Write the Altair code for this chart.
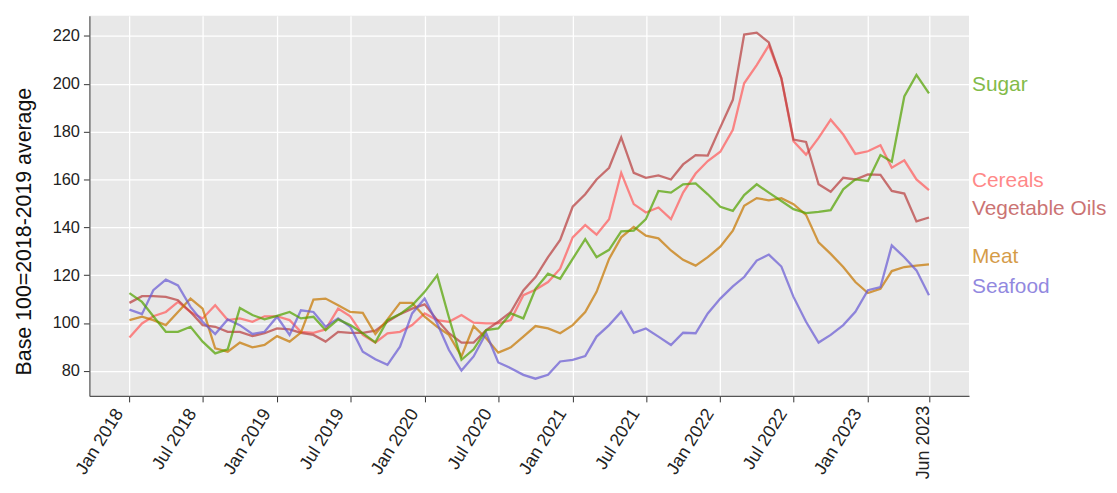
import altair as alt
import pandas as pd

# ---------------- data ----------------
months = pd.date_range("2018-01-01", periods=66, freq="MS").strftime("%Y-%m-%d").tolist()

sugar = [112.5, 108.8, 102.8, 96.3, 96.3, 98.4, 92.2, 87.3, 89.0, 106.3, 103.3, 101.5,
         103.0, 104.6, 101.9, 102.6, 97.0, 101.5, 99.1, 95.7, 91.9, 101.2, 103.7, 107.4,
         113.0, 119.9, 102.3, 84.6, 89.0, 97.0, 97.7, 104.0, 101.9, 114.3, 120.6, 118.5,
         126.8, 135.1, 127.5, 130.6, 138.3, 138.6, 143.4, 155.2, 154.5, 158.0, 158.4, 153.8,
         148.6, 146.9, 153.5, 158.0, 154.5, 151.0, 147.6, 145.9, 146.5, 147.2, 155.9, 160.0,
         159.4, 170.2, 167.4, 194.7, 203.7, 196.0]

cereals = [93.9, 99.8, 102.8, 104.6, 108.8, 104.6, 101.9, 107.4, 101.2, 101.9, 100.5, 102.8,
           102.8, 101.2, 96.3, 95.9, 97.3, 106.0, 102.8, 95.0, 91.8, 95.7, 96.3, 99.1,
           104.0, 101.2, 100.5, 103.3, 100.1, 99.8, 99.8, 101.2, 111.6, 113.9, 117.1, 122.7,
           135.8, 140.9, 136.9, 143.4, 162.8, 149.7, 146.2, 148.3, 143.4, 154.5, 162.5, 167.7,
           171.6, 180.8, 200.2, 207.8, 216.1, 202.3, 176.0, 170.4, 177.4, 185.0, 178.8, 170.7,
           171.8, 174.3, 164.9, 168.0, 160.0, 155.6]

veg_oils = [108.4, 111.2, 111.2, 110.9, 109.5, 104.6, 99.1, 98.4, 96.3, 96.3, 94.5, 95.7,
            97.7, 97.3, 95.9, 95.0, 92.2, 96.3, 95.9, 95.9, 96.8, 100.5, 103.7, 106.0,
            107.8, 101.2, 95.7, 91.8, 91.8, 97.0, 100.5, 104.6, 113.6, 119.2, 127.5, 134.7,
            148.6, 153.8, 160.0, 164.9, 177.6, 162.8, 160.7, 161.7, 160.0, 166.3, 170.2, 170.0,
            181.8, 193.3, 220.6, 221.4, 217.3, 202.3, 176.7, 175.7, 158.0, 154.9, 160.7, 160.0,
            162.1, 161.9, 155.2, 154.1, 142.5, 144.1]

meat = [101.2, 102.6, 101.2, 99.1, 104.6, 110.2, 106.0, 89.4, 88.0, 91.8, 89.8, 90.8,
        94.5, 92.2, 96.0, 109.8, 110.2, 107.4, 104.6, 104.2, 95.4, 101.5, 108.4, 108.4,
        102.6, 98.4, 95.0, 86.0, 98.7, 93.6, 87.6, 89.8, 94.3, 98.7, 97.7, 95.7,
        99.1, 104.6, 113.0, 126.8, 135.8, 140.2, 136.5, 135.4, 130.3, 126.4, 124.0, 127.5,
        131.9, 138.6, 149.0, 152.2, 151.3, 152.2, 149.7, 145.2, 133.7, 128.9, 123.4, 117.1,
        112.5, 114.3, 121.7, 123.4, 124.0, 124.5]

seafood = [105.6, 103.7, 113.7, 118.1, 115.7, 106.7, 100.5, 95.4, 101.5, 99.1, 95.4, 96.3,
           102.6, 95.0, 105.3, 104.6, 98.4, 101.9, 98.4, 88.0, 84.8, 82.5, 90.1, 104.0,
           110.2, 99.8, 88.7, 80.1, 86.0, 95.7, 83.5, 81.1, 78.3, 76.7, 78.3, 83.9,
           84.6, 86.2, 94.3, 99.1, 104.7, 95.9, 97.7, 94.3, 90.8, 95.9, 95.7, 104.0,
           110.2, 115.3, 119.2, 126.1, 128.6, 123.6, 110.9, 100.5, 91.8, 95.0, 99.1, 104.7,
           113.7, 115.0, 132.4, 127.5, 122.0, 111.6]

series_names = ["Cereals", "Vegetable Oils", "Meat", "Seafood", "Sugar"]
series_values = [cereals, veg_oils, meat, seafood, sugar]
series_colors = ["#ff5b5b", "#b83e3e", "#c67700", "#695bd4", "#53a200"]
label_values = [159.3, 147.6, 127.7, 115.1, 199.5]

tick_dates = ["2018-01-01", "2018-07-01", "2019-01-01", "2019-07-01", "2020-01-01",
              "2020-07-01", "2021-01-01", "2021-07-01", "2022-01-01", "2022-07-01",
              "2023-01-01", "2023-06-01"]
tick_labels = ["Jan 2018", "Jul 2018", "Jan 2019", "Jul 2019", "Jan 2020", "Jul 2020",
               "Jan 2021", "Jul 2021", "Jan 2022", "Jul 2022", "Jan 2023", "Jun 2023"]
y_ticks = [80, 100, 120, 140, 160, 180, 200, 220]

# ---------------- tables ----------------
rows = []
for name, vals in zip(series_names, series_values):
    for d, v in zip(months, vals):
        rows.append({"date": d, "value": v, "series": name})
df = pd.DataFrame(rows)
lab_df = pd.DataFrame({"series": series_names, "label_y": label_values})
tick_df = pd.DataFrame({"date": tick_dates, "label": tick_labels})

W, H = 886, 383
FONT = "Liberation Sans"


def dt(s):
    y, m, d = (int(p) for p in s.split("-"))
    return alt.DateTime(year=y, month=m, date=d, utc=True)


x_scale = alt.Scale(type="utc", domain=[dt("2017-09-24"), dt("2023-09-08")])
y_scale = alt.Scale(domain=[69.5, 228.5], nice=False, zero=False)
color_scale = alt.Scale(domain=series_names, range=series_colors)

x_axis = alt.Axis(values=[dt(s) for s in tick_dates], labels=False, title=None,
                  tickSize=6, tickColor="#333333", tickWidth=1,
                  domainColor="#555555", domainWidth=1.2,
                  grid=True, gridColor="#ffffff", gridWidth=1.3, gridOpacity=1)
y_axis = alt.Axis(values=y_ticks, title="Base 100=2018-2019 average",
                  labelFontSize=16.5, labelColor="#222222", labelPadding=4, labelFont=FONT,
                  tickSize=6, tickColor="#333333", tickWidth=1,
                  domainColor="#555555", domainWidth=1.2,
                  grid=True, gridColor="#ffffff", gridWidth=1.3, gridOpacity=1,
                  titleFont=FONT, titleFontSize=21.5, titleFontWeight="normal",
                  titleColor="#111111", titleAngle=270, titleAlign="center",
                  titleBaseline="middle", titleX=-65, titleY=217)

lines = alt.Chart(df).mark_line(strokeWidth=2.3, opacity=0.72).encode(
    x=alt.X("date:T", scale=x_scale, axis=x_axis),
    y=alt.Y("value:Q", scale=y_scale, axis=y_axis),
    color=alt.Color("series:N", scale=color_scale, legend=None),
)

labels = alt.Chart(lab_df).mark_text(
    align="left", baseline="middle", fontSize=21, font=FONT, opacity=0.72, dx=3
).encode(
    x=alt.value(W),
    y=alt.Y("label_y:Q", scale=y_scale),
    text="series:N",
    color=alt.Color("series:N", scale=color_scale, legend=None),
)

xt_rot = alt.Chart(tick_df).transform_filter(alt.datum.label != "Jun 2023").mark_text(
    align="right", baseline="middle", angle=302, fontSize=18, font=FONT,
    color="#222222", xOffset=-10
).encode(
    x=alt.X("date:T", scale=x_scale),
    y=alt.value(H + 15),
    text="label:N",
)

xt_last = alt.Chart(tick_df).transform_filter(alt.datum.label == "Jun 2023").mark_text(
    align="right", baseline="middle", angle=270, fontSize=18, font=FONT,
    color="#222222", xOffset=-5
).encode(
    x=alt.X("date:T", scale=x_scale),
    y=alt.value(H + 10),
    text="label:N",
)

chart = alt.layer(lines, labels, xt_rot, xt_last).properties(
    width=W, height=H,
    autosize=alt.AutoSizeParams(type="none"),
    padding={"left": 82, "top": 6, "right": 141, "bottom": 86},
).configure(font=FONT).configure_view(fill="#e8e8e8", strokeWidth=0)

chart.save("out.html", embed_options={"renderer": "svg", "actions": False})
